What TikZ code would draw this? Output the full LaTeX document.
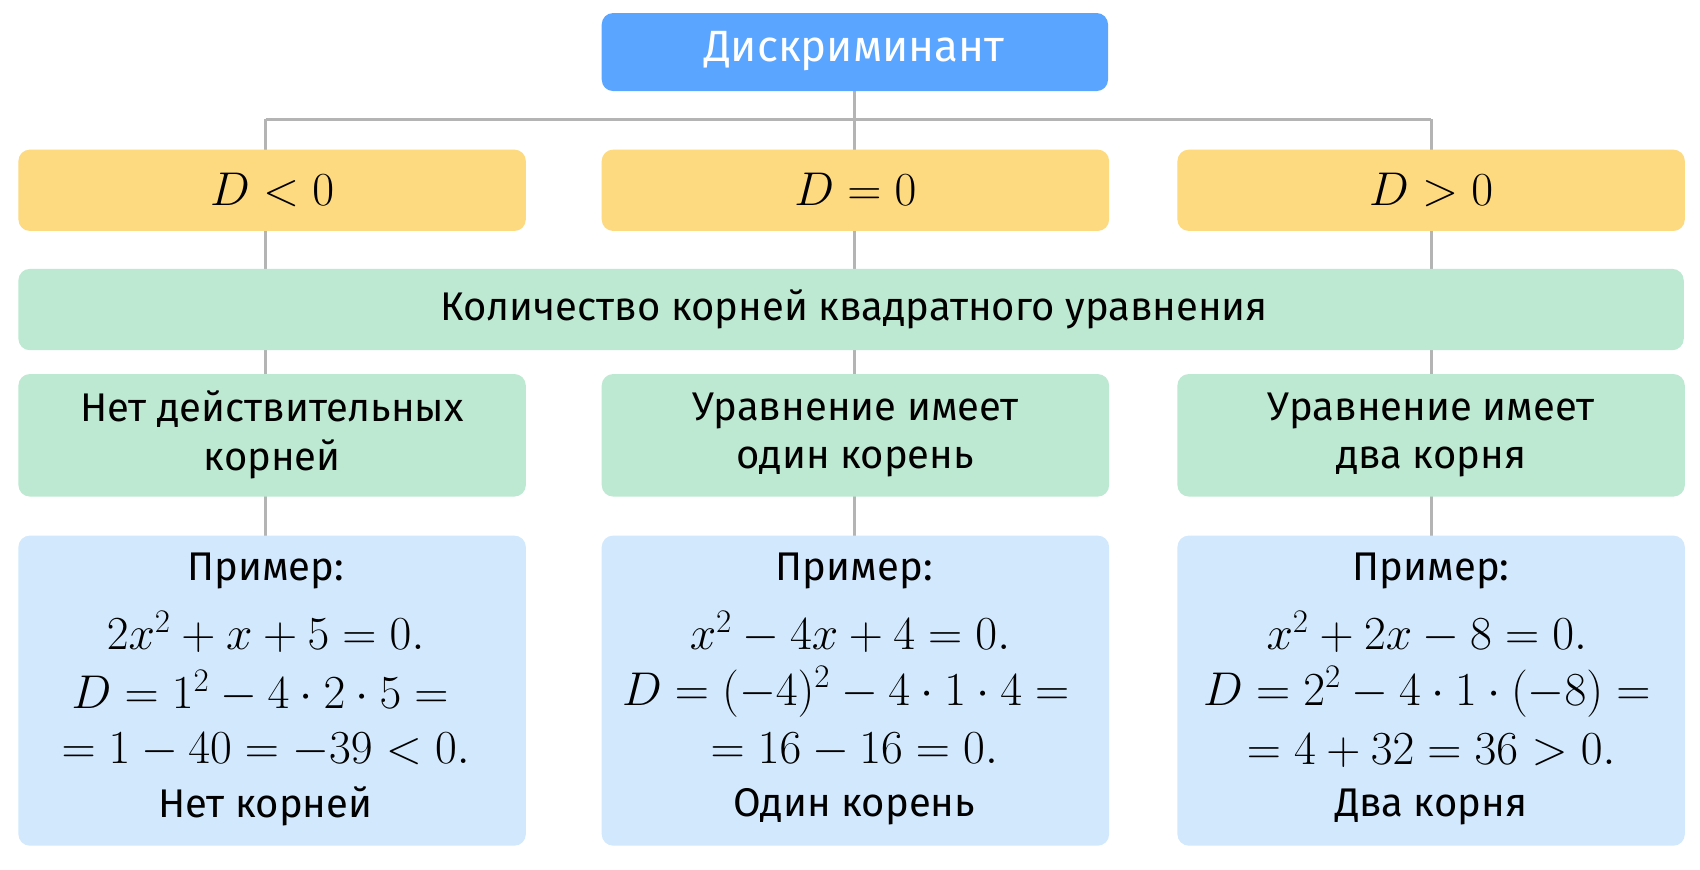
\documentclass[tikz,border=0pt]{standalone}
\usepackage{fontspec}
\setsansfont{Fira Sans}
\setmainfont{Liberation Serif}

\definecolor{topblue}{HTML}{5AA5FF}
\definecolor{yel}{HTML}{FDDA80}
\definecolor{grn}{HTML}{BDE8D2}
\definecolor{lblue}{HTML}{D2E8FC}
\definecolor{ln}{HTML}{B4B4B4}

\begin{document}
\begin{tikzpicture}[x=0.02cm, y=-0.02cm]
\tikzset{link/.style={draw=ln,line width=1.6pt},
  ex/.style={font=\fontsize{24}{28}\selectfont},
  exs/.style={font=\sffamily\fontsize{21}{26}\selectfont}}
\useasboundingbox (0,0) rectangle (1568,802);
\fill[white] (0,0) rectangle (1568,802);

% lines behind the boxes
\coordinate (hl) at (245,110);
\coordinate (hm) at (788,110);
\coordinate (hr) at (1320,110);
\draw[link] (788,48) -- (hm);
\draw[link] (hl) -- (hr);
\foreach \x in {245,788,1320} \draw[link] (\x,110) -- (\x,640);

% title
\fill[topblue,rounded corners=6pt] (555,12) rectangle (1022,84);
\node[font=\sffamily\fontsize{23}{28}\selectfont,text=white] (title) at (788,47) {Дискриминант};

% conditions
\foreach \x/\c/\n in {17/{D<0}/cl,555/{D=0}/cm,1086/{D>0}/cr}{
  \fill[yel,rounded corners=6pt] (\x,138) rectangle ++(468,75);
  \node[ex] (\n) at (\x+234,175) {$\c$};
}

% number of roots
\fill[grn,rounded corners=6pt] (17,248) rectangle (1553,323);
\node[exs] (count) at (788,285) {Количество корней квадратного уравнения};

\foreach \x/\t/\n in {17/{Нет действительных\\корней}/rl,555/{Уравнение имеет\\один корень}/rm,1086/{Уравнение имеет\\два корня}/rr}{
  \fill[grn,rounded corners=6pt] (\x,345) rectangle ++(468,113);
  \node[align=center,font=\sffamily\fontsize{21}{25.5}\selectfont] (\n) at (\x+234,401) {\t};
}

% examples
\foreach \x in {17,555,1086}
  \fill[lblue,rounded corners=6pt] (\x,494) rectangle ++(468,286);

\node[exs] (pl) at (245,527) {Пример:};
\node[ex] (el) at (245,583) {$2x^2+x+5=0.$};
\node[ex] (dl) at (240,638) {$D=1^2-4\cdot2\cdot5=$};
\node[ex] (sl) at (245,692) {$=1-40=-39<0.$};
\node[exs] (al) at (245,744) {Нет корней};

\node[exs] (pm) at (788,527) {Пример:};
\node[ex] (em) at (784,583) {$x^2-4x+4=0.$};
\node[ex] (dm) at (780,638) {$D=(-4)^2-4\cdot1\cdot4=$};
\node[ex] (sm) at (788,692) {$=16-16=0.$};
\node[exs] (am) at (788,744) {Один корень};

\node[exs] (pr) at (1320,527) {Пример:};
\node[ex] (er) at (1316,583) {$x^2+2x-8=0.$};
\node[ex] (dr) at (1316,638) {$D=2^2-4\cdot1\cdot(-8)=$};
\node[ex] (sr) at (1320,692) {$=4+32=36>0.$};
\node[exs] (ar) at (1320,744) {Два корня};
\end{tikzpicture}
\end{document}
